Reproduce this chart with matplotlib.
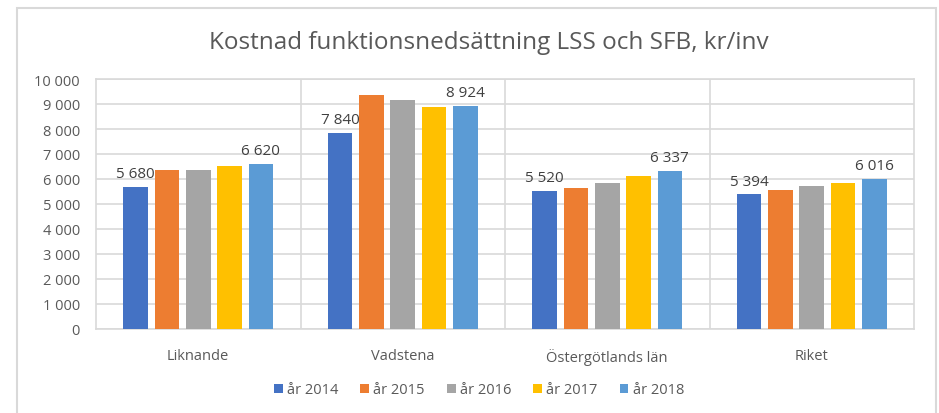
import matplotlib
matplotlib.use("Agg")
import matplotlib.pyplot as plt
from matplotlib.patches import Rectangle
import numpy as np

categories = ["Liknande", "Vadstena", "Östergötlands län", "Riket"]
series_names = ["år 2014", "år 2015", "år 2016", "år 2017", "år 2018"]
v2014 = [5680, 7840, 5520, 5394]
v2015 = [6360, 9370, 5630, 5550]
v2016 = [6370, 9150, 5840, 5710]
v2017 = [6510, 8880, 6110, 5840]
v2018 = [6620, 8924, 6337, 6016]
colors = ["#4472C4", "#ED7D31", "#A5A5A5", "#FFC000", "#5B9BD5"]
yticks = [0, 1000, 2000, 3000, 4000, 5000, 6000, 7000, 8000, 9000, 10000]
title = "Kostnad funktionsnedsättning LSS och SFB, kr/inv"

plt.rcParams['font.family'] = ['Open Sans', 'DejaVu Sans']

def fmt(v):
    return f"{v:,}".replace(",", " ")

fig = plt.figure(figsize=(9.39, 4.14), dpi=100)
# outer chart border
fig.patches.append(Rectangle((17/939, -0.05), (935.5-17)/939, 1 - 9/414 + 0.05,
                             transform=fig.transFigure, fill=False,
                             edgecolor="#d9d9d9", linewidth=1.5))

ax = fig.add_axes([96/939, 1-330/414, (914-96)/939, (330-80)/414])
all_series = [v2014, v2015, v2016, v2017, v2018]
x = np.arange(len(categories))
step = 0.153
width = 0.12
for i, (vals, c, name) in enumerate(zip(all_series, colors, series_names)):
    pos = x + (i - 2) * step
    ax.bar(pos, vals, width=width, color=c, label=name, zorder=3)
    if i in (0, 4):
        for p, v in zip(pos, vals):
            ax.annotate(fmt(v), (p, v), xytext=(0, 4), textcoords="offset points",
                        ha="center", va="bottom", fontsize=11, color="#404040")

ax.set_xlim(-0.5, len(categories) - 0.5)
ax.set_ylim(0, 10000)
ax.set_yticks(yticks)
ax.set_yticklabels([fmt(t) for t in yticks], fontsize=10.5, color="#595959")
ax.set_xticks(x)
ax.set_xticklabels(categories, fontsize=10.5, color="#595959")
ax.tick_params(axis="y", length=0, pad=11.5)
ax.tick_params(axis="x", length=0, pad=14)
ax.grid(axis="y", color="#d9d9d9", linewidth=1.2, zorder=0)
for b in np.arange(0.5, len(categories) - 0.5, 1):
    ax.axvline(b, color="#d9d9d9", linewidth=1.2, zorder=0)
for s in ax.spines.values():
    s.set_color("#d9d9d9")
    s.set_linewidth(1.2)

fig.text(489/939, 1 - 43/414, title, ha="center", va="center",
         fontsize=17.5, color="#595959")

handles, labels = ax.get_legend_handles_labels()
fig.legend(handles, labels, loc="center", bbox_to_anchor=(479/939, 1 - 391/414),
           ncol=5, frameon=False, fontsize=10.5, labelcolor="#595959",
           handlelength=0.6, handleheight=0.6, handletextpad=0.3, columnspacing=1.5)

fig.savefig("out.png", dpi=100)
